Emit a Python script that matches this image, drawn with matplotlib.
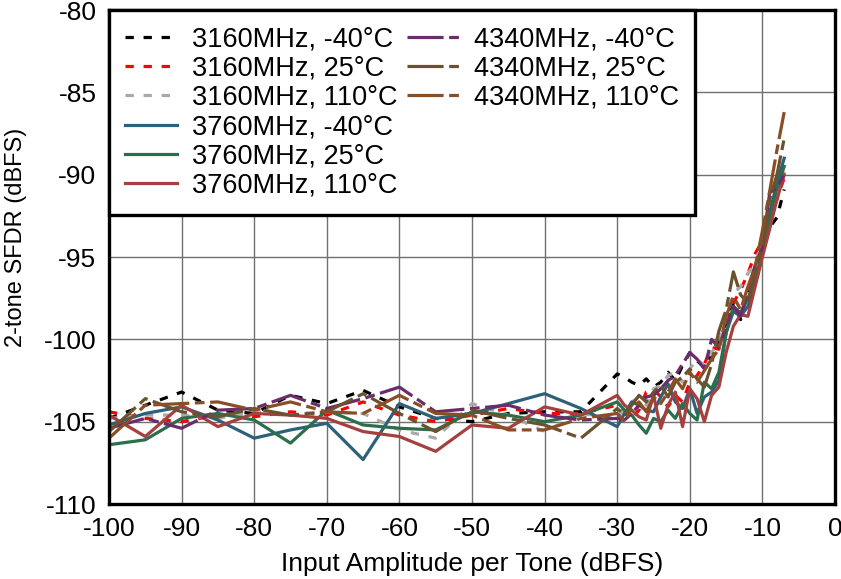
import matplotlib
matplotlib.use("Agg")
import matplotlib.pyplot as plt
from matplotlib.lines import Line2D

plt.rcParams["font.family"] = ["Liberation Sans", "DejaVu Sans"]
plt.rcParams["lines.scale_dashes"] = False
plt.rcParams["axes.unicode_minus"] = False

# input amplitude per tone (dBFS)
amp = [-100, -95, -90, -85, -80, -75, -70, -65, -60, -55, -50, -45, -40, -35,
       -30, -29, -28, -27, -26, -25, -24, -23, -22, -21, -20, -19, -18, -17,
       -16, -15, -14, -13, -12, -11, -10, -9, -8, -7]

# 2-tone SFDR (dBFS)
f3160_m40 = [-104.8, -104.0, -103.2, -104.3, -104.5, -103.4, -103.9, -103.1, -104.1, -104.8,
             -105.0, -104.5, -104.4, -104.4, -102.1, -102.3, -102.6, -102.8, -102.4, -102.9,
             -102.6, -102.0, -102.5, -101.6, -100.8, -101.3, -101.7, -101.0, -100.2, -99.0,
             -97.8, -98.8, -97.0, -95.8, -94.3, -93.2, -92.6, -90.9]
f3160_25 = [-104.4, -104.8, -105.0, -104.6, -104.7, -104.4, -104.6, -103.8, -104.6, -105.0,
            -104.6, -104.2, -104.5, -104.5, -104.0, -104.5, -104.8, -104.3, -103.2, -103.0,
            -103.5, -104.1, -103.4, -103.8, -102.6, -102.2, -101.5, -100.5, -100.6, -99.0,
            -97.8, -97.0, -96.0, -94.8, -94.0, -92.8, -91.5, -90.2]
f3160_110 = [-104.8, -104.6, -104.6, -104.8, -104.4, -104.6, -104.4, -104.5, -105.5, -106.0,
             -103.9, -104.6, -105.6, -104.5, -104.8, -104.2, -103.8, -103.5, -104.0, -103.0,
             -102.8, -102.2, -102.0, -102.6, -101.8, -101.2, -101.6, -100.8, -100.2, -98.8,
             -97.2, -96.8, -96.0, -95.4, -94.0, -92.6, -91.2, -89.8]
f3760_m40 = [-105.2, -104.5, -104.1, -104.9, -106.0, -105.5, -105.1, -107.3, -103.9, -104.8,
             -104.5, -103.9, -103.3, -104.2, -105.3, -104.5, -103.8, -104.0, -104.3, -104.4,
             -103.5, -102.7, -103.8, -104.2, -103.0, -104.5, -103.5, -103.2, -102.5, -99.6,
             -98.3, -98.6, -98.0, -96.6, -94.5, -92.3, -90.5, -89.0]
f3760_25 = [-106.4, -106.1, -104.8, -104.5, -104.9, -106.3, -104.3, -105.2, -105.4, -105.5,
            -104.4, -104.6, -105.0, -104.6, -103.8, -104.3, -104.6, -105.2, -105.7, -104.8,
            -105.0, -104.3, -104.8, -103.9, -104.5, -104.9, -102.6, -103.0, -102.0, -99.6,
            -98.0, -98.4, -97.5, -96.5, -94.8, -92.6, -90.8, -89.5]
f3760_110 = [-104.6, -105.9, -104.0, -105.3, -104.5, -104.6, -104.8, -105.6, -105.9, -106.8,
             -105.2, -105.4, -104.1, -104.6, -103.4, -104.0, -104.3, -104.7, -104.9, -103.4,
             -105.4, -104.0, -103.2, -105.3, -103.0, -103.6, -105.0, -103.4, -102.9, -100.8,
             -99.2, -98.5, -98.6, -96.8, -95.0, -93.3, -91.5, -90.0]
f4340_m40 = [-105.4, -104.8, -105.4, -104.3, -104.2, -103.4, -104.2, -103.6, -102.9, -104.4,
             -104.2, -104.0, -104.6, -104.9, -104.8, -104.9, -104.5, -104.0, -103.5, -103.4,
             -103.0, -102.5, -102.2, -101.5, -100.8, -101.2, -101.8, -100.0, -100.5, -99.2,
             -98.0, -98.6, -97.0, -95.5, -94.4, -91.1, -90.8, -90.0]
f4340_25 = [-105.6, -103.6, -104.4, -104.7, -104.2, -104.6, -104.4, -103.3, -104.5, -105.6,
            -104.3, -104.8, -105.2, -106.0, -104.2, -104.6, -104.0, -103.4, -103.8, -103.2,
            -102.8, -103.5, -102.6, -102.3, -101.8, -102.4, -102.9, -101.5, -99.5, -98.2,
            -95.9, -97.3, -97.8, -95.8, -94.5, -91.5, -90.0, -87.8]
f4340_110 = [-106.0, -104.0, -103.9, -103.8, -104.3, -103.8, -104.4, -104.5, -103.4, -104.5,
             -104.6, -105.5, -105.5, -104.8, -104.5, -105.0, -104.2, -103.8, -104.4, -103.5,
             -103.9, -103.2, -102.4, -103.0, -102.0, -102.6, -101.9, -101.2, -100.6, -98.6,
             -97.4, -98.2, -96.8, -95.6, -93.4, -91.0, -88.5, -86.2]

labels = ["3160MHz, -40°C", "3160MHz, 25°C", "3160MHz, 110°C",
          "3760MHz, -40°C", "3760MHz, 25°C", "3760MHz, 110°C",
          "4340MHz, -40°C", "4340MHz, 25°C", "4340MHz, 110°C"]
series = [f3160_m40, f3160_25, f3160_110, f3760_m40, f3760_25, f3760_110,
          f4340_m40, f4340_25, f4340_110]
colors = ["#000000", "#FF0000", "#A9A9A9", "#2E6079", "#2B6E4C", "#A5403E",
          "#6A2C6A", "#6A5230", "#8A4E26"]
short_dash = (0, (6, 7))
long_short = (0, (26, 4, 7, 4))
styles = [short_dash] * 3 + ["-"] * 3 + [long_short] * 3

fig = plt.figure(figsize=(8.41, 5.79), dpi=100)
ax = fig.add_axes([0.1296, 0.1295, 0.8633, 0.8532])

handles = []
for y, lab, c, ls in zip(series, labels, colors, styles):
    line, = ax.plot(amp, y, color=c, linestyle=ls, linewidth=2.3, label=lab)
    handles.append(line)

ax.set_xlim(-100, 0)
ax.set_ylim(-110, -80)
ax.set_xticks(range(-100, 1, 10))
ax.set_yticks(range(-110, -79, 5))
ax.grid(True, color="#707070", linewidth=1.0)
ax.set_axisbelow(True)
ax.tick_params(length=0, labelsize=19, pad=9)
for s in ax.spines.values():
    s.set_linewidth(2.4)
    s.set_color("black")
ax.set_xlabel("Input Amplitude per Tone (dBFS)", fontsize=19, labelpad=8)
ax.set_ylabel("2-tone SFDR (dBFS)", fontsize=17)
ax.yaxis.set_label_coords(-0.113, 0.54)

# pad second column with blanks so the first column holds 6 entries
blanks = [Line2D([], [], linestyle="none") for _ in range(3)]
leg = ax.legend(handles + blanks, labels + [""] * 3,
                loc="upper left", bbox_to_anchor=(0, 1, 0.807, 0), mode="expand",
                borderaxespad=0, ncol=2, fontsize=19.5, handlelength=1.9,
                handletextpad=0.55, labelspacing=0.12, columnspacing=0.6,
                borderpad=0.6, fancybox=False, framealpha=1)
frame = leg.get_frame()
frame.set_edgecolor("black")
frame.set_linewidth(2.4)

fig.savefig("out.png", dpi=100)
